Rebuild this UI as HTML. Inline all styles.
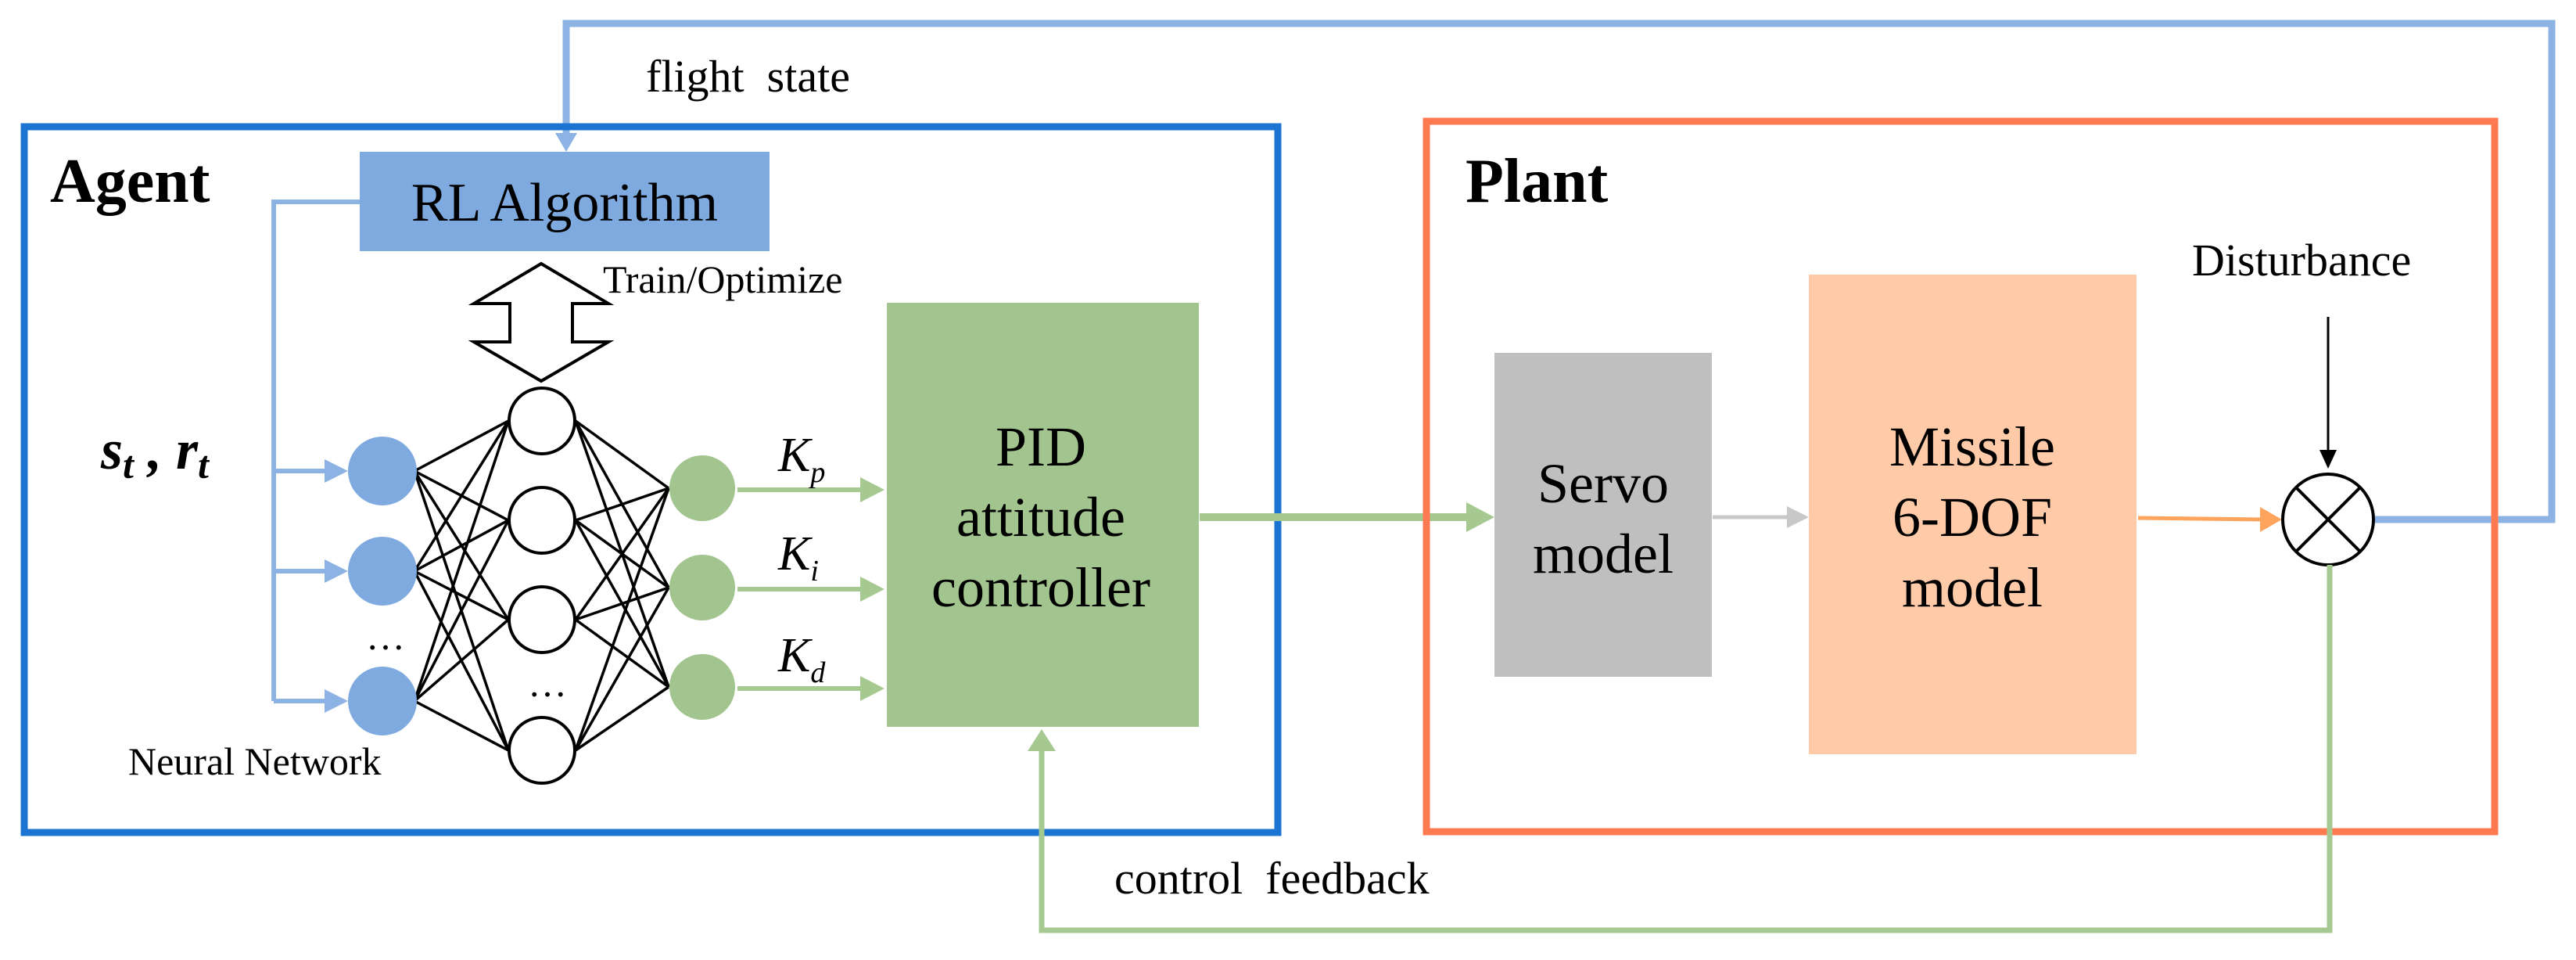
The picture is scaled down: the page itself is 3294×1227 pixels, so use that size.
<!DOCTYPE html>
<html><head><meta charset="utf-8"><style>
html,body{margin:0;padding:0;background:#fff;}
svg{display:block;}
svg text, svg tspan{font-family:"Liberation Serif","DejaVu Serif",serif !important;fill:#000;}
</style></head><body>
<svg width="3294" height="1227" viewBox="0 0 3294 1227" xmlns="http://www.w3.org/2000/svg" font-family="Liberation Serif, serif">
<!-- top flight state loop -->
<polyline points="3037,664 3263,664 3263,30 724,30 724,172" fill="none" stroke="#8db3e4" stroke-width="9"/>
<polygon points="710,170 738,170 724,194" fill="#8db3e4"/>
<text x="826" y="117" font-size="58" style="font-family:'Liberation Serif',serif">flight&#160; state</text>

<!-- Agent box -->
<rect x="31" y="162" width="1603" height="902" fill="none" stroke="#1b74d2" stroke-width="9"/>
<text x="64" y="258" font-size="80" font-weight="bold" style="font-family:'Liberation Serif',serif">Agent</text>

<!-- RL box -->
<rect x="460" y="194" width="524" height="127" fill="#7faae0"/>
<text x="722" y="282" font-size="70" text-anchor="middle" style="font-family:'Liberation Serif',serif">RL Algorithm</text>

<!-- light blue input lines -->
<polyline points="460,258 350,258 350,896" fill="none" stroke="#8db3e4" stroke-width="6"/>
<g stroke="#8db3e4" stroke-width="6"><line x1="350" y1="602" x2="425" y2="602"/><line x1="350" y1="730" x2="425" y2="730"/><line x1="350" y1="896" x2="425" y2="896"/></g>
<g fill="#8db3e4"><polygon points="415,587 445,602 415,617"/><polygon points="415,715 445,730 415,745"/><polygon points="415,881 445,896 415,911"/></g>

<text x="129" y="599" font-size="72" font-style="italic" font-weight="bold" style="font-family:'Liberation Serif',serif">s<tspan font-size="50" dy="12">t</tspan><tspan dy="-12"> , r</tspan><tspan font-size="50" dy="12">t</tspan></text>

<!-- train/optimize arrow -->
<polygon points="692,337 778,388 732,388 732,437 778,437 692,487 606,437 652,437 652,388 606,388" fill="#fff" stroke="#000" stroke-width="4"/>
<text x="771" y="374" font-size="50" style="font-family:'Liberation Serif',serif">Train/Optimize</text>

<!-- NN lines -->
<g stroke="#000" stroke-width="3.5">
<line x1="530" y1="602" x2="650" y2="538"/><line x1="530" y1="602" x2="650" y2="665"/><line x1="530" y1="602" x2="650" y2="792"/><line x1="530" y1="602" x2="650" y2="959"/>
<line x1="530" y1="730" x2="650" y2="538"/><line x1="530" y1="730" x2="650" y2="665"/><line x1="530" y1="730" x2="650" y2="792"/><line x1="530" y1="730" x2="650" y2="959"/>
<line x1="530" y1="896" x2="650" y2="538"/><line x1="530" y1="896" x2="650" y2="665"/><line x1="530" y1="896" x2="650" y2="792"/><line x1="530" y1="896" x2="650" y2="959"/>
<line x1="736" y1="538" x2="855" y2="624"/><line x1="736" y1="538" x2="855" y2="751"/><line x1="736" y1="538" x2="855" y2="878"/>
<line x1="736" y1="665" x2="855" y2="624"/><line x1="736" y1="665" x2="855" y2="751"/><line x1="736" y1="665" x2="855" y2="878"/>
<line x1="736" y1="792" x2="855" y2="624"/><line x1="736" y1="792" x2="855" y2="751"/><line x1="736" y1="792" x2="855" y2="878"/>
<line x1="736" y1="959" x2="855" y2="624"/><line x1="736" y1="959" x2="855" y2="751"/><line x1="736" y1="959" x2="855" y2="878"/>
</g>
<g fill="#7faae0"><circle cx="489" cy="602" r="44"/><circle cx="489" cy="730" r="44"/><circle cx="489" cy="896" r="44"/></g>
<g fill="#fff" stroke="#000" stroke-width="4"><circle cx="693" cy="538" r="42"/><circle cx="693" cy="665" r="42"/><circle cx="693" cy="792" r="42"/><circle cx="693" cy="959" r="42"/></g>
<g fill="#a2c48e"><circle cx="898" cy="624" r="42"/><circle cx="898" cy="751" r="42"/><circle cx="898" cy="878" r="42"/></g>
<text x="493" y="830" font-size="50" text-anchor="middle" style="font-family:'Liberation Serif',serif">…</text>
<text x="700" y="890" font-size="50" text-anchor="middle" style="font-family:'Liberation Serif',serif">…</text>
<text x="164" y="990" font-size="50" style="font-family:'Liberation Serif',serif">Neural Network</text>

<!-- K arrows -->
<g stroke="#a6c991" stroke-width="6"><line x1="943" y1="626" x2="1110" y2="626"/><line x1="943" y1="753" x2="1110" y2="753"/><line x1="943" y1="880" x2="1110" y2="880"/></g>
<g fill="#a6c991"><polygon points="1100,610 1131,626 1100,642"/><polygon points="1100,737 1131,753 1100,769"/><polygon points="1100,864 1131,880 1100,896"/></g>
<text x="995" y="602" font-size="62" font-style="italic" style="font-family:'Liberation Serif',serif">K<tspan font-size="38" dy="14">p</tspan></text>
<text x="995" y="728" font-size="62" font-style="italic" style="font-family:'Liberation Serif',serif">K<tspan font-size="38" dy="14">i</tspan></text>
<text x="995" y="858" font-size="62" font-style="italic" style="font-family:'Liberation Serif',serif">K<tspan font-size="38" dy="14">d</tspan></text>

<!-- PID -->
<rect x="1134" y="387" width="399" height="542" fill="#a2c48e"/>
<text x="1331" y="595" font-size="72" text-anchor="middle" style="font-family:'Liberation Serif',serif">PID</text>
<text x="1331" y="685" font-size="72" text-anchor="middle" style="font-family:'Liberation Serif',serif">attitude</text>
<text x="1331" y="775" font-size="72" text-anchor="middle" style="font-family:'Liberation Serif',serif">controller</text>

<!-- PID to servo -->
<line x1="1534" y1="661" x2="1880" y2="661" stroke="#a6c991" stroke-width="10"/>
<polygon points="1875,642 1911,661 1875,680" fill="#a6c991"/>

<!-- Plant -->
<rect x="1824" y="155" width="1366" height="908" fill="none" stroke="#ff7a50" stroke-width="9"/>
<text x="1874" y="258" font-size="80" font-weight="bold" style="font-family:'Liberation Serif',serif">Plant</text>

<rect x="1911" y="451" width="278" height="414" fill="#bfbfbf"/>
<text x="2050" y="642" font-size="72" text-anchor="middle" style="font-family:'Liberation Serif',serif">Servo</text>
<text x="2050" y="732" font-size="72" text-anchor="middle" style="font-family:'Liberation Serif',serif">model</text>
<line x1="2190" y1="661" x2="2290" y2="661" stroke="#c8c8c8" stroke-width="5"/>
<polygon points="2285,647 2313,661 2285,675" fill="#c8c8c8"/>

<rect x="2313" y="351" width="419" height="613" fill="#ffcaa8"/>
<text x="2522" y="595" font-size="72" text-anchor="middle" style="font-family:'Liberation Serif',serif">Missile</text>
<text x="2522" y="685" font-size="72" text-anchor="middle" style="font-family:'Liberation Serif',serif">6-DOF</text>
<text x="2522" y="775" font-size="72" text-anchor="middle" style="font-family:'Liberation Serif',serif">model</text>
<line x1="2734" y1="662" x2="2895" y2="664" stroke="#ffa45c" stroke-width="5"/>
<polygon points="2890,648 2918,664 2890,680" fill="#ffa45c"/>

<!-- summing junction -->
<text x="2803" y="352" font-size="58" style="font-family:'Liberation Serif',serif">Disturbance</text>
<line x1="2977" y1="405" x2="2977" y2="580" stroke="#000" stroke-width="3"/>
<polygon points="2966,575 2988,575 2977,599" fill="#000"/>
<circle cx="2977" cy="664" r="58" fill="#fff" stroke="#000" stroke-width="4"/>
<g stroke="#000" stroke-width="4"><line x1="2936" y1="623" x2="3018" y2="705"/><line x1="3018" y1="623" x2="2936" y2="705"/></g>

<!-- feedback -->
<polyline points="2979,722 2979,1189 1332,1189 1332,955" fill="none" stroke="#a6c991" stroke-width="7"/>
<polygon points="1314,960 1350,960 1332,932" fill="#a6c991"/>
<text x="1425" y="1142" font-size="58" style="font-family:'Liberation Serif',serif">control&#160; feedback</text>
</svg>
</body></html>
